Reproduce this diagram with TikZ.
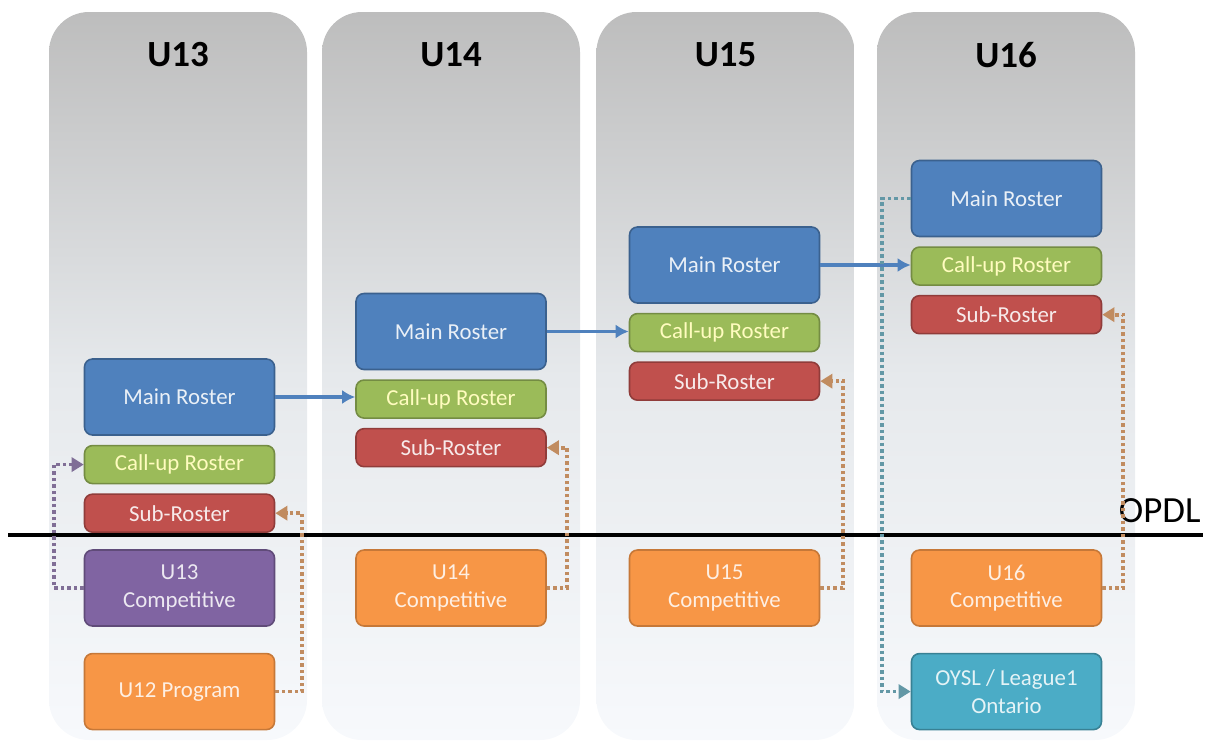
\documentclass[tikz,border=0pt]{standalone}
\usepackage{fontspec}
\setmainfont{Carlito}
\usetikzlibrary{positioning,calc,arrows.meta}
\definecolor{colTop}{HTML}{BDBDBD}
\definecolor{colMid}{HTML}{E6E9EC}
\definecolor{colBot}{HTML}{F7F9FC}
\definecolor{mainblue}{HTML}{4F81BD}
\definecolor{callgreen}{HTML}{9BBB59}
\definecolor{subred}{HTML}{C0504D}
\definecolor{comppurple}{HTML}{8064A2}
\definecolor{comporange}{HTML}{F79646}
\definecolor{leagueteal}{HTML}{4BACC6}
\tikzstyle{column}=[rounded corners=0.8cm, minimum width=5.16cm, minimum height=14.56cm, top color=colTop, bottom color=colBot, middle color=colMid]
\tikzstyle{head}=[inner sep=0pt, font=\fontsize{21}{24}\selectfont\bfseries]
\tikzstyle{block}=[draw, rounded corners=0.16cm, minimum width=3.8cm, minimum height=1.52cm, line width=0.9pt, align=center, font=\fontsize{13}{15.5}\selectfont]
\tikzstyle{small}=[block, minimum height=0.76cm]
\tikzstyle{mainbox}=[block, fill=mainblue, draw=mainblue!75!black, text=white!88!mainblue]
\tikzstyle{callbox}=[small, fill=callgreen, draw=callgreen!75!black, text=yellow!25!white]
\tikzstyle{subbox}=[small, fill=subred, draw=subred!75!black, text=white!88!subred]
\tikzstyle{arrow}=[line width=2.2pt, mainblue, -{Latex[length=2.6mm,width=2.8mm]}]
\tikzstyle{dotline}=[line width=2.1pt, dash pattern=on 2pt off 1.7pt, -{Triangle[length=2.4mm,width=2.8mm]}]

\begin{document}
\begin{tikzpicture}[node distance=0.18cm]
\useasboundingbox (0,0) rectangle (24.1,-14.92);
% age group columns
\node (col13) [column] at (3.56,-7.52) {};
\node (col14) [column] at (9.02,-7.52) {};
\node (col15) [column] at (14.51,-7.52) {};
\node (col16) [column] at (20.12,-7.52) {};
\node (u13) [head] at ($(col13.north)+(0,-0.86)$) {U13};
\node (u14) [head] at ($(col14.north)+(0,-0.86)$) {U14};
\node (u15) [head] at ($(col15.north)+(0,-0.86)$) {U15};
\node (u16) [head] at ($(col16.north)+(0,-0.86)$) {U16};
% OPDL line
\coordinate (opdlL) at (0.16,-10.7);
\coordinate (opdlR) at (24.06,-10.7);
\draw[line width=2.2pt] (opdlL)--(opdlR);
\node (opdl) [inner sep=0pt, anchor=south east, font=\fontsize{21}{24}\selectfont] at ($(opdlR)+(-0.04,0.24)$) {OPDL};
% rosters
\node (main13) [mainbox] at (3.59,-7.94) {Main Roster};
\node (call13) [callbox,below=of main13] {Call-up Roster};
\node (sub13) [subbox,below=of call13] {Sub-Roster};
\node (main14) [mainbox] at (9.02,-6.63) {Main Roster};
\node (call14) [callbox,below=of main14] {Call-up Roster};
\node (sub14) [subbox,below=of call14] {Sub-Roster};
\node (main15) [mainbox] at (14.49,-5.3) {Main Roster};
\node (call15) [callbox,below=of main15] {Call-up Roster};
\node (sub15) [subbox,below=of call15] {Sub-Roster};
\node (main16) [mainbox] at (20.13,-3.97) {Main Roster};
\node (call16) [callbox,below=of main16] {Call-up Roster};
\node (sub16) [subbox,below=of call16] {Sub-Roster};
% below the line
\node (comp13) [block,fill=comppurple,draw=comppurple!75!black,text=white!85!comppurple] at (3.59,-11.76) {U13\\Competitive};
\node (prog12) [block,fill=comporange,draw=comporange!80!black,text=white!85!comporange,below=0.52cm of comp13] {U12 Program};
\node (comp14) [block,fill=comporange,draw=comporange!80!black,text=white!85!comporange] at (9.02,-11.76) {U14\\Competitive};
\node (comp15) [block,fill=comporange,draw=comporange!80!black,text=white!85!comporange] at (14.49,-11.76) {U15\\Competitive};
\node (comp16) [block,fill=comporange,draw=comporange!80!black,text=white!85!comporange] at (20.13,-11.76) {U16\\Competitive};
\node (oysl) [block,fill=leagueteal,draw=leagueteal!75!black,text=white!85!leagueteal,below=0.52cm of comp16] {OYSL / League1\\Ontario};
% promotion arrows
\draw[arrow] (main13.east)--(main13.east-|call14.west);
\draw[arrow] (main14.east)--(main14.east-|call15.west);
\draw[arrow] (main15.east)--(main15.east-|call16.west);
% dotted feeds
\draw[dotline,comppurple!65!gray] (comp13.west)--++(-0.6,0)|-(call13.west);
\draw[dotline,comporange!55!gray] (prog12.east)--++(0.54,0)|-(sub13.east);
\draw[dotline,comporange!55!gray] (comp14.east)--++(0.4,0)|-(sub14.east);
\draw[dotline,comporange!55!gray] (comp15.east)--++(0.46,0)|-(sub15.east);
\draw[dotline,comporange!55!gray] (comp16.east)--++(0.42,0)|-(sub16.east);
\draw[dotline,leagueteal!55!gray] (main16.west)--++(-0.58,0)|-(oysl.west);
\end{tikzpicture}
\end{document}
